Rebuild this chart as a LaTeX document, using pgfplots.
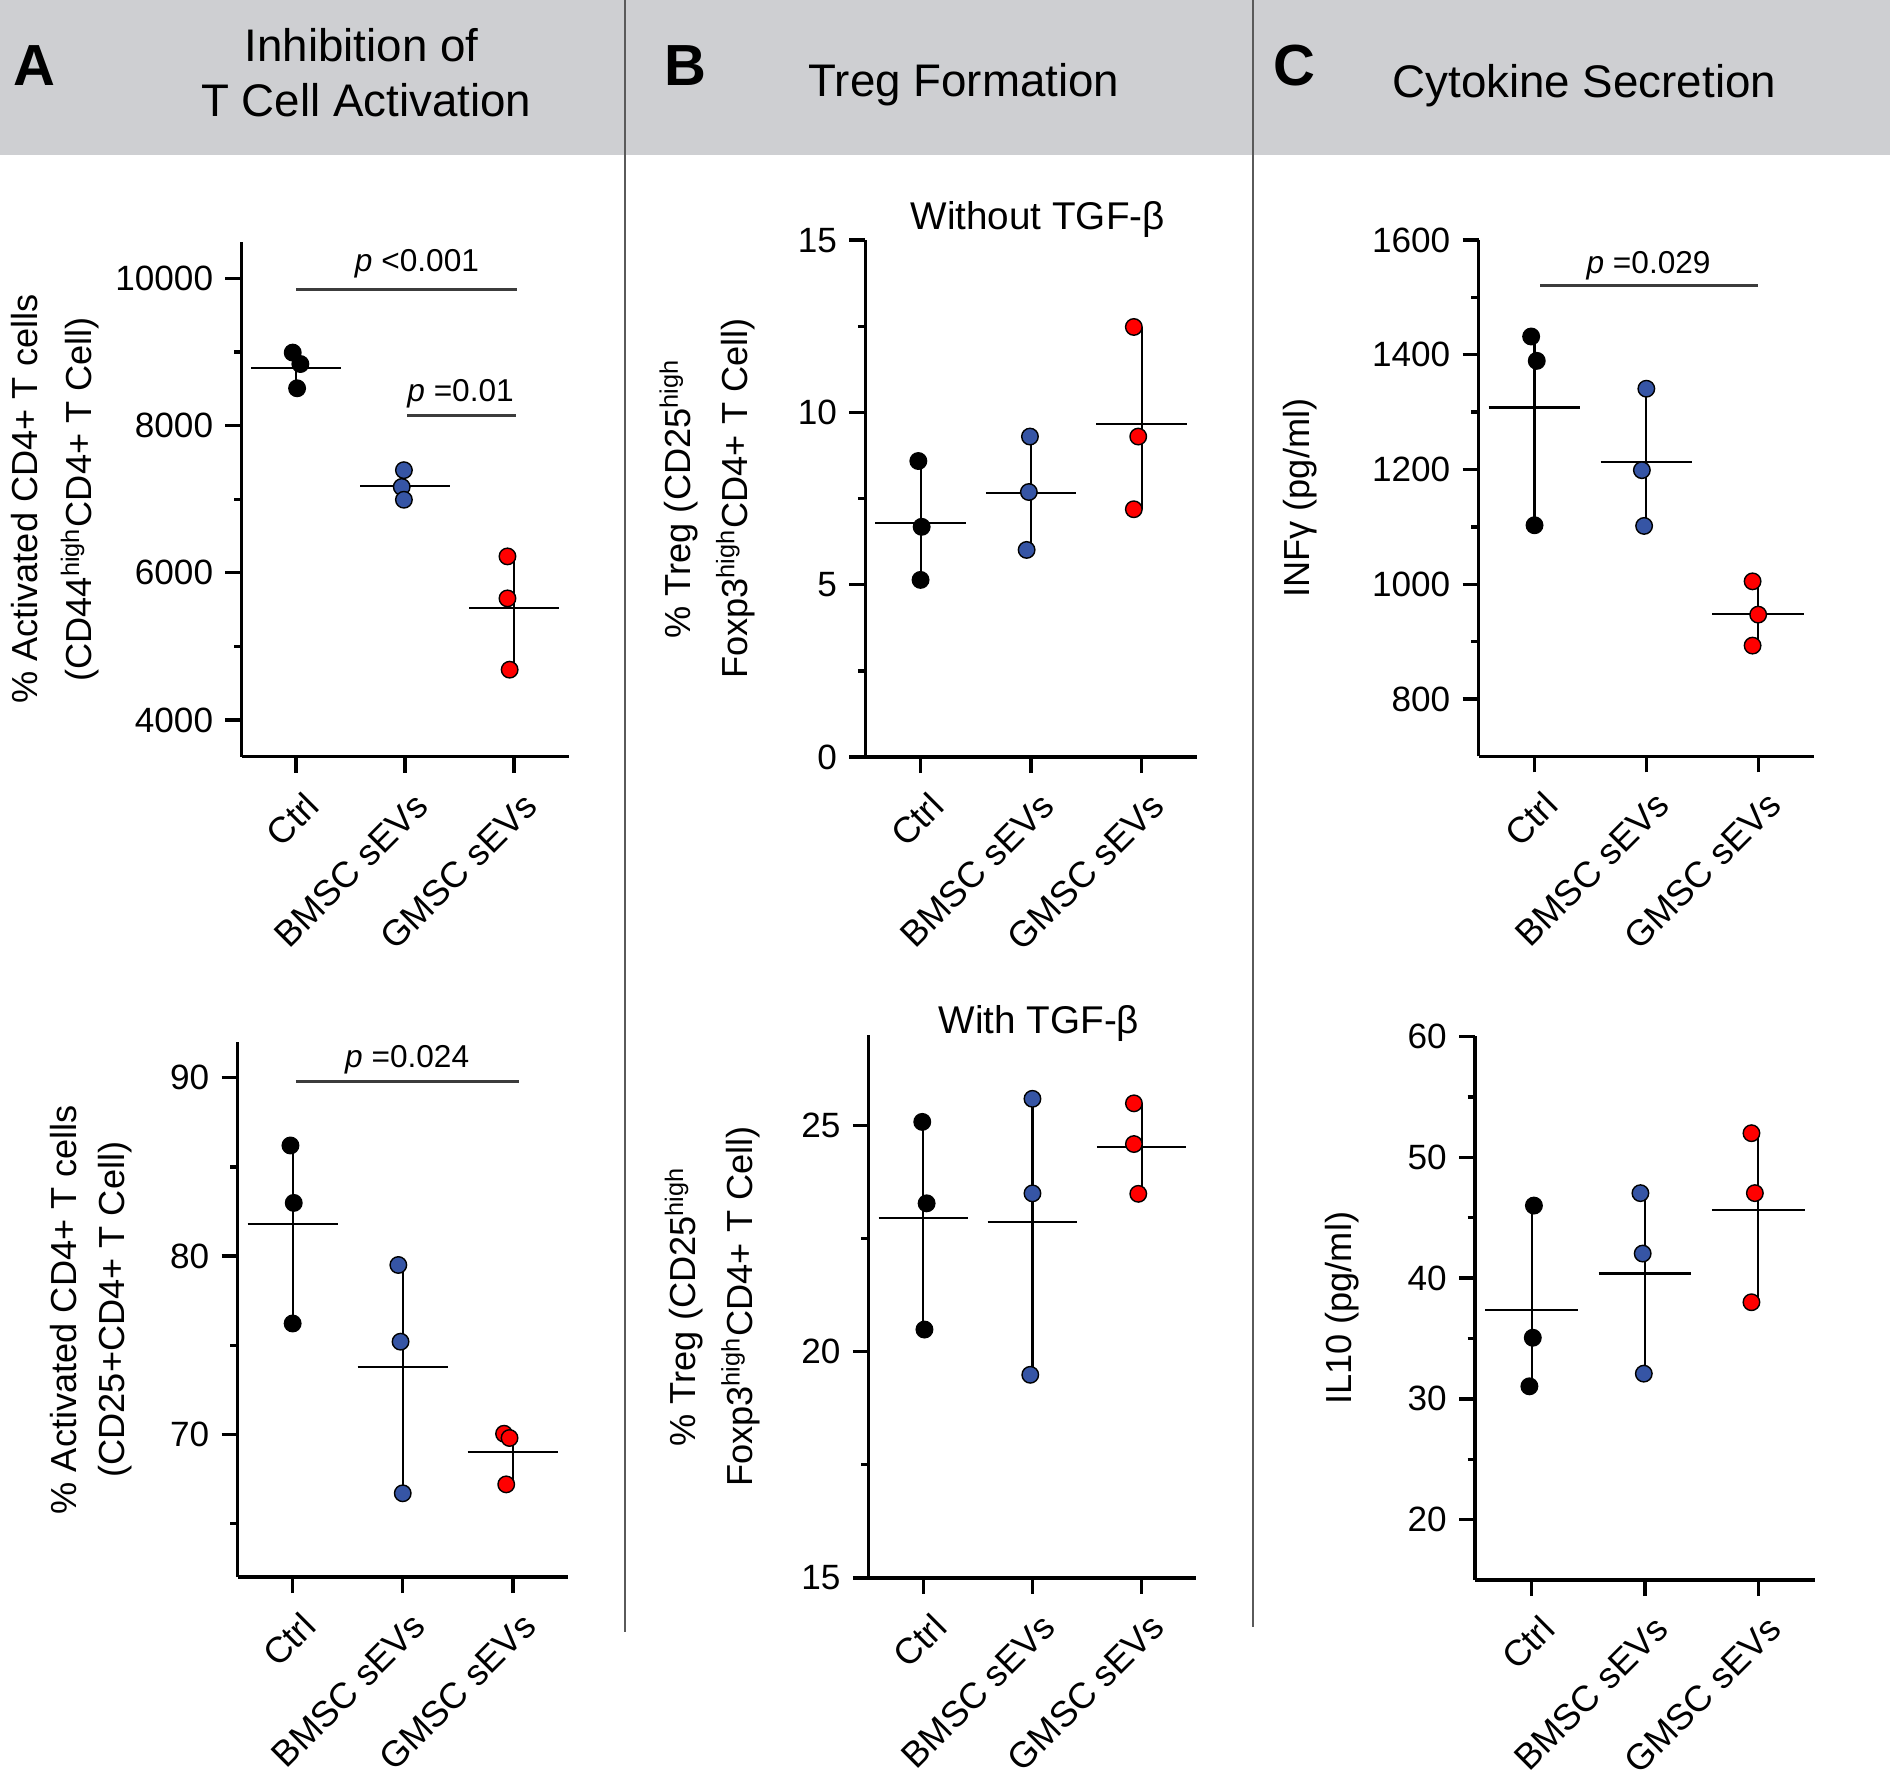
\documentclass[border=0pt]{standalone}
\usepackage{pgfplots}
\pgfplotsset{compat=1.18}
\usepackage{fontspec}
\setmainfont{Liberation Sans}
\definecolor{headgrey}{RGB}{206,207,210}
\definecolor{divgrey}{RGB}{90,90,90}
\definecolor{bmsc}{RGB}{54,85,165}
\definecolor{gmsc}{RGB}{255,0,0}
\definecolor{pgrey}{RGB}{60,60,60}
\pgfplotsset{
  dotplot/.style={
    scale only axis, axis lines*=left, tick align=outside,
    xmin=-0.5, xmax=2.5, xtick={0,1,2},
    xticklabels={Ctrl,BMSC sEVs,GMSC sEVs},
    major tick length=1.6mm, minor tick length=0.75mm,
    axis line style={line width=0.95pt, black},
    every tick/.style={black, line width=0.95pt},
    tick label style={font=\fontsize{10}{12}\selectfont},
    xticklabel style={font=\fontsize{10.3}{12}\selectfont, xshift=2.5mm, yshift=-1.8mm, rotate=45, anchor=east},
    scaled y ticks=false,
    /pgf/number format/1000 sep={},
    /pgf/number format/assume math mode=true,
    ylabel style={font=\fontsize{10.3}{13.6}\selectfont, align=center, anchor=center, rotate=0},
    clip=false,
  },
  meanline/.style={black, line width=0.6pt, mark=none, forget plot},
  rangeline/.style={black, line width=0.6pt, mark=none, forget plot},
  pbar/.style={pgrey, line width=0.9pt, mark=none, forget plot},
  dots/.style={only marks, mark=*, mark size=2.35pt, mark options={draw=black, line width=0.4pt, fill=#1}},
}
\newcommand{\pfont}{\fontsize{9}{11}\selectfont}
\begin{document}
\begin{tikzpicture}
\useasboundingbox (0,0) rectangle (189mm,-177.7mm);
\fill[headgrey] (0,0) rectangle (189mm,-15.5mm);
\draw[divgrey, line width=0.2mm] (62.45mm,0) -- (62.45mm,-163.2mm);
\draw[divgrey, line width=0.2mm] (125.27mm,0) -- (125.27mm,-162.7mm);
\node[font=\fontsize{16.5}{18}\bfseries, inner sep=0pt] at (3.4mm,-6.6mm) {A};
\node[font=\fontsize{16.5}{18}\bfseries, inner sep=0pt] at (68.5mm,-6.6mm) {B};
\node[font=\fontsize{16.5}{18}\bfseries, inner sep=0pt] at (129.4mm,-6.6mm) {C};
\node[font=\fontsize{13}{15}\selectfont, inner sep=0pt, anchor=base] at (36.15mm,-6.17mm) {Inhibition of};
\node[font=\fontsize{13}{15}\selectfont, inner sep=0pt, anchor=base] at (36.63mm,-11.67mm) {T Cell Activation};
\node[font=\fontsize{13}{15}\selectfont, inner sep=0pt, anchor=base] at (96.4mm,-9.67mm) {Treg Formation};
\node[font=\fontsize{13}{15}\selectfont, inner sep=0pt, anchor=base] at (158.43mm,-9.73mm) {Cytokine Secretion};

% ---------------- A top
\begin{axis}[dotplot, at={(24.15mm,-75.67mm)}, anchor=south west,
  width=32.7mm, height=51.5mm, ymin=3500, ymax=10500,
  ytick={4000,6000,8000,10000}, minor ytick={5000,7000,9000},
  ylabel={\% Activated CD4+ T cells\\(CD44\textsuperscript{high}CD4+ T Cell)},
  ylabel style={at={(axis description cs:-0.57,0.5)}, font=\fontsize{10.3}{15.6}\selectfont}]
\addplot[rangeline] coordinates {(0,8508) (0,8993)};
\addplot[rangeline] coordinates {(1,6993) (1,7395)};
\addplot[rangeline] coordinates {(2,4683) (2,6223)};
\addplot[meanline] coordinates {(-0.41,8780) (0.41,8780)};
\addplot[meanline] coordinates {(0.59,7185) (1.41,7185)};
\addplot[meanline] coordinates {(1.59,5519) (2.41,5519)};
\addplot[pbar] coordinates {(0,9855) (2.03,9855)};
\addplot[pbar] coordinates {(1.02,8136) (2.02,8136)};
\addplot[dots=black] coordinates {(-0.03,8993) (0.04,8838) (0.01,8508)};
\addplot[dots=bmsc] coordinates {(0.99,7395) (0.97,7167) (0.99,6993)};
\addplot[dots=gmsc] coordinates {(1.94,6223) (1.94,5652) (1.96,4683)};
\node[font=\pfont, anchor=base] at (axis cs:1.11,10092) {\textit{p} <0.001};
\node[font=\pfont, anchor=base] at (axis cs:1.51,8324) {\textit{p} =0.01};
\end{axis}

% ---------------- A bottom
\begin{axis}[dotplot, at={(23.76mm,-157.71mm)}, anchor=south west,
  width=33.03mm, height=53.51mm, ymin=62, ymax=92,
  ytick={70,80,90}, minor ytick={65,75,85},
  ylabel={\% Activated CD4+ T cells\\(CD25+CD4+ T Cell)},
  ylabel style={at={(axis description cs:-0.444,0.5)}, font=\fontsize{10.3}{13.5}\selectfont}]
\addplot[rangeline] coordinates {(0,76.22) (0,86.2)};
\addplot[rangeline] coordinates {(1,66.7) (1,79.5)};
\addplot[rangeline] coordinates {(2,67.2) (2,70.04)};
\addplot[meanline] coordinates {(-0.41,81.8) (0.41,81.8)};
\addplot[meanline] coordinates {(0.59,73.8) (1.41,73.8)};
\addplot[meanline] coordinates {(1.59,69.01) (2.41,69.01)};
\addplot[pbar] coordinates {(0.03,89.8) (2.06,89.8)};
\addplot[dots=black] coordinates {(-0.02,86.2) (0.01,82.98) (0,76.22)};
\addplot[dots=bmsc] coordinates {(0.96,79.5) (0.98,75.2) (1.0,66.7)};
\addplot[dots=gmsc] coordinates {(1.92,70.04) (1.97,69.8) (1.94,67.2)};
\node[font=\pfont, anchor=base] at (axis cs:1.04,90.6) {\textit{p} =0.024};
\end{axis}

% ---------------- B top
\begin{axis}[dotplot, at={(86.53mm,-75.7mm)}, anchor=south west,
  width=33.15mm, height=51.69mm, ymin=0, ymax=15,
  ytick={0,5,10,15}, minor ytick={2.5,7.5,12.5},
  ylabel={\% Treg (CD25\textsuperscript{high}\\Foxp3\textsuperscript{high}CD4+ T Cell)},
  ylabel style={at={(axis description cs:-0.4775,0.5)}, font=\fontsize{10.3}{16.1}\selectfont}]
\addplot[rangeline] coordinates {(0,5.14) (0,8.59)};
\addplot[rangeline] coordinates {(1,6.01) (1,9.30)};
\addplot[rangeline] coordinates {(2,7.19) (2,12.48)};
\addplot[meanline] coordinates {(-0.41,6.80) (0.41,6.80)};
\addplot[meanline] coordinates {(0.59,7.67) (1.41,7.67)};
\addplot[meanline] coordinates {(1.59,9.66) (2.41,9.66)};
\addplot[dots=black] coordinates {(-0.02,8.59) (0.01,6.68) (0,5.14)};
\addplot[dots=bmsc] coordinates {(0.99,9.30) (0.98,7.69) (0.96,6.01)};
\addplot[dots=gmsc] coordinates {(1.93,12.48) (1.97,9.30) (1.93,7.19)};
\node[font=\fontsize{11}{13}\selectfont, anchor=base] at (axis cs:1.06,15.32) {Without TGF-β};
\end{axis}

% ---------------- B bottom
\begin{axis}[dotplot, at={(86.88mm,-157.79mm)}, anchor=south west,
  width=32.73mm, height=54.29mm, ymin=15, ymax=27,
  ytick={15,20,25}, minor ytick={17.5,22.5},
  ylabel={\% Treg (CD25\textsuperscript{high}\\Foxp3\textsuperscript{high}CD4+ T Cell)},
  ylabel style={at={(axis description cs:-0.478,0.5)}, font=\fontsize{10.3}{16.1}\selectfont}]
\addplot[rangeline] coordinates {(0,20.49) (0,25.08)};
\addplot[rangeline] coordinates {(1,19.49) (1,25.59)};
\addplot[rangeline] coordinates {(2,23.49) (2,25.49)};
\addplot[meanline] coordinates {(-0.41,22.95) (0.41,22.95)};
\addplot[meanline] coordinates {(0.59,22.86) (1.41,22.86)};
\addplot[meanline] coordinates {(1.59,24.52) (2.41,24.52)};
\addplot[dots=black] coordinates {(-0.01,25.08) (0.03,23.28) (0.01,20.49)};
\addplot[dots=bmsc] coordinates {(1.0,25.59) (1.0,23.5) (0.98,19.49)};
\addplot[dots=gmsc] coordinates {(1.93,25.49) (1.93,24.59) (1.97,23.49)};
\node[font=\fontsize{11}{13}\selectfont, anchor=base] at (axis cs:1.06,27.03) {With TGF-β};
\end{axis}

% ---------------- C top
\begin{axis}[dotplot, at={(147.86mm,-75.63mm)}, anchor=south west,
  width=33.55mm, height=51.63mm, ymin=700, ymax=1600,
  ytick={800,1000,1200,1400,1600}, minor ytick={900,1100,1300,1500},
  ylabel={INFγ (pg/ml)},
  ylabel style={at={(axis description cs:-0.533,0.5)}}]
\addplot[rangeline] coordinates {(0,1102.8) (0,1431.8)};
\addplot[rangeline] coordinates {(1,1101.6) (1,1340.8)};
\addplot[rangeline] coordinates {(2,893) (2,1005)};
\addplot[meanline] coordinates {(-0.41,1308) (0.41,1308)};
\addplot[meanline] coordinates {(0.59,1213.7) (1.41,1213.7)};
\addplot[meanline] coordinates {(1.59,948.3) (2.41,948.3)};
\addplot[pbar] coordinates {(0.05,1520) (2.0,1520)};
\addplot[dots=black] coordinates {(-0.03,1431.8) (0.02,1389.4) (0,1102.8)};
\addplot[dots=bmsc] coordinates {(1.0,1340.8) (0.96,1198.8) (0.98,1101.6)};
\addplot[dots=gmsc] coordinates {(1.95,1005) (2.0,947) (1.95,893)};
\node[font=\pfont, anchor=base] at (axis cs:1.02,1542) {\textit{p} =0.029};
\end{axis}

% ---------------- C bottom
\begin{axis}[dotplot, at={(147.5mm,-158.01mm)}, anchor=south west,
  width=33.99mm, height=54.37mm, ymin=15, ymax=60,
  ytick={20,30,40,50,60}, minor ytick={25,35,45,55},
  ylabel={IL10 (pg/ml)},
  ylabel style={at={(axis description cs:-0.391,0.5)}}]
\addplot[rangeline] coordinates {(0,31.04) (0,46)};
\addplot[rangeline] coordinates {(1,32.09) (1,47.03)};
\addplot[rangeline] coordinates {(2,38.0) (2,51.99)};
\addplot[meanline] coordinates {(-0.41,37.37) (0.41,37.37)};
\addplot[meanline] coordinates {(0.59,40.38) (1.41,40.38)};
\addplot[meanline] coordinates {(1.59,45.67) (2.41,45.67)};
\addplot[dots=black] coordinates {(0.02,46) (0.01,35.06) (-0.02,31.04)};
\addplot[dots=bmsc] coordinates {(0.96,47.03) (0.98,42.03) (0.99,32.09)};
\addplot[dots=gmsc] coordinates {(1.94,51.99) (1.97,47.03) (1.94,38.0)};
\end{axis}
\end{tikzpicture}
\end{document}
